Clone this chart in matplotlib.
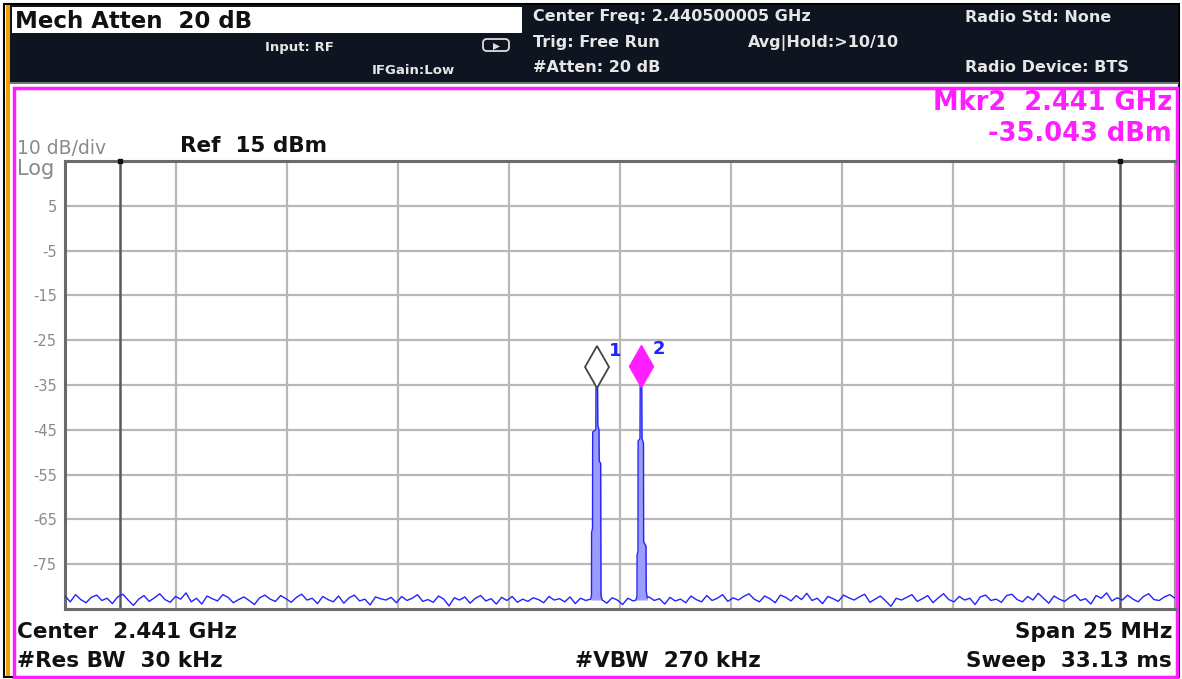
import matplotlib.pyplot as plt
import matplotlib.patches as mpatches
import matplotlib.transforms as mtransforms
import numpy as np

plt.rcParams['font.family'] = ['DejaVu Sans']

# ---- instrument settings ----
CENTER_GHZ = 2.441
SPAN_GHZ = 0.025
REF_DBM = 15
DB_PER_DIV = 10
Y_TICKS = [5, -5, -15, -25, -35, -45, -55, -65, -75]
FREQ_LINES_GHZ = [2.42974, 2.45226]

NOISE_DBM = [
    -82.1, -83.4, -81.8, -82.9, -83.6, -82.4, -81.9, -83.1, -82.6, -83.8,
    -82.3, -81.7, -83.0, -84.2, -82.8, -82.0, -83.3, -82.5, -81.6, -82.9,
    -83.5, -82.2, -82.8, -81.4, -83.4, -82.6, -83.9, -82.1, -82.7, -83.2,
    -81.8, -82.4, -83.6, -82.9, -82.3, -83.1, -84.0, -82.5, -81.9, -82.8,
    -83.3, -82.0, -82.7, -83.5, -82.4, -81.7, -83.0, -82.6, -83.8, -82.2,
    -82.9, -83.4, -82.1, -83.7, -82.5, -81.9, -83.2, -82.8, -84.1, -82.3,
    -82.7, -83.0, -82.4, -83.6, -82.2, -83.1, -82.6, -81.8, -83.3, -82.9,
    -83.5, -82.1, -82.8, -84.3, -82.5, -83.0, -82.3, -83.7, -82.6, -82.0,
    -83.2, -82.7, -83.9, -82.4, -83.1, -82.2, -83.5, -82.8, -83.3, -82.5,
    -82.9, -83.6, -82.2, -83.0, -82.7, -83.4, -82.3, -83.8, -82.6, -83.1,
    -82.8, -83.3, -82.4, -83.7, -82.5, -83.0, -84.0, -82.6, -83.2, -82.9,
    -83.5, -82.3, -83.1, -82.7, -83.9, -82.4, -83.2, -82.8, -83.6, -82.1,
    -82.9, -83.4, -82.0, -83.1, -82.6, -81.8, -83.3, -82.5, -83.0, -82.2,
    -81.6, -82.8, -83.4, -82.1, -82.7, -83.6, -81.9, -82.4, -83.2, -82.0,
    -82.9, -81.5, -83.1, -82.6, -83.8, -82.2, -82.7, -83.3, -81.9, -82.5,
    -83.0, -82.3, -81.7, -83.5, -82.8, -82.1, -83.2, -84.4, -82.6, -83.0,
    -82.4, -81.8, -83.3, -82.7, -82.0, -83.6, -82.5, -81.6, -82.9, -83.4,
    -82.2, -83.0, -82.6, -84.0, -82.3, -81.9, -83.1, -82.8, -83.5, -82.0,
    -81.7, -82.9, -83.4, -82.2, -83.0, -81.5, -82.6, -83.7, -82.1, -82.8,
    -83.3, -82.4, -81.8, -83.1, -82.7, -83.9, -82.0, -82.6, -81.4, -83.2,
    -82.5, -83.0, -81.9, -82.8, -83.4, -82.2, -81.6, -82.9, -83.1, -82.3,
    -81.8, -82.6,
]

PEAK1_GHZ = [2.440340, 2.440358, 2.440360, 2.440381, 2.440385, 2.440455, 2.440460,
             2.440495, 2.440500, 2.440527, 2.440532, 2.440565, 2.440572, 2.440600]
PEAK1_DBM = [-82.8, -82.0, -68.0, -67.0, -45.5, -45.0, -35.5,
             -35.3, -44.0, -45.0, -52.0, -52.5, -82.0, -83.0]

PEAK2_GHZ = [2.441360, 2.441383, 2.441385, 2.441405, 2.441408, 2.441450, 2.441455,
             2.441490, 2.441495, 2.441529, 2.441532, 2.441586, 2.441590, 2.441615]
PEAK2_DBM = [-83.0, -82.0, -73.0, -72.0, -47.5, -47.0, -35.0,
             -35.0, -47.0, -48.0, -70.0, -71.0, -81.0, -82.5]

MARKER_GHZ = [2.44048, 2.44147]
MARKER_DBM = [-35.4, -35.043]
MARKER_NAMES = ['1', '2']

TRACE_BLUE = '#2222ff'
FILL_BLUE = '#9c9cff'
MAGENTA = '#ff1eff'
HEADER_BG = '#0e1420'

f_start = CENTER_GHZ - SPAN_GHZ / 2
f_stop = CENTER_GHZ + SPAN_GHZ / 2

noise_f = np.linspace(f_start, f_stop, len(NOISE_DBM))
noise_db = np.array(NOISE_DBM)
keep = ~(((noise_f > PEAK1_GHZ[0]) & (noise_f < PEAK1_GHZ[-1])) |
         ((noise_f > PEAK2_GHZ[0]) & (noise_f < PEAK2_GHZ[-1])))
trace_f = np.concatenate([noise_f[keep], PEAK1_GHZ, PEAK2_GHZ])
trace_db = np.concatenate([noise_db[keep], PEAK1_DBM, PEAK2_DBM])
order = np.argsort(trace_f)
trace_f, trace_db = trace_f[order], trace_db[order]

W, H = 1182, 679
fig = plt.figure(figsize=(W / 100, H / 100), dpi=100)

# ---- screen furniture (pixel coordinates) ----
bg = fig.add_axes([0, 0, 1, 1])
bg.set_xlim(0, W)
bg.set_ylim(H, 0)
bg.axis('off')

bg.add_patch(mpatches.Rectangle((4, 4), W - 7, H - 6, fc='white', ec='black', lw=1.5))
bg.add_patch(mpatches.Rectangle((6, 5), 4, H - 8, fc='#f0a000', ec='none'))
bg.add_patch(mpatches.Rectangle((10, 5), W - 14, 79, fc=HEADER_BG, ec='none'))
bg.plot([10, W - 4], [83, 83], color='#8a8a8a', lw=1.2)
bg.add_patch(mpatches.Rectangle((12, 7), 510, 26, fc='white', ec='none'))
bg.add_patch(mpatches.Rectangle((13.5, 87.5), W - 18.5, H - 90, fc='none',
                                ec=MAGENTA, lw=2.5))

bg.text(15, 21, 'Mech Atten  20 dB', fontsize=16.5, fontweight='bold',
        color='#111111', va='center', ha='left')
bg.text(265, 47, 'Input: RF', fontsize=9.5, fontweight='bold', color='#e6e6e6',
        va='center', ha='left')
bg.text(372, 71, 'IFGain:Low', fontsize=9.5, fontweight='bold', color='#e6e6e6',
        va='center', ha='left')
bg.add_patch(mpatches.FancyBboxPatch((484, 40), 24, 10, boxstyle='round,pad=1,rounding_size=4',
                                     fc='none', ec='#dddddd', lw=1.3))
bg.add_patch(mpatches.Polygon([[493, 43], [500, 46.5], [493, 50]], closed=True,
                              fc='#dddddd', ec='none'))

hdr = dict(fontsize=11.5, fontweight='bold', color='#e6e6e6', va='center', ha='left')
bg.text(533, 17, 'Center Freq: 2.440500005 GHz', **hdr)
bg.text(533, 43, 'Trig: Free Run', **hdr)
bg.text(748, 43, 'Avg|Hold:>10/10', **hdr)
bg.text(533, 68, '#Atten: 20 dB', **hdr)
bg.text(965, 18, 'Radio Std: None', **hdr)
bg.text(965, 68, 'Radio Device: BTS', **hdr)

bg.text(1172, 103, 'Mkr2  2.441 GHz', fontsize=18.5, fontweight='bold', color=MAGENTA,
        va='center', ha='right')
bg.text(1172, 134, '-35.043 dBm', fontsize=18.5, fontweight='bold', color=MAGENTA,
        va='center', ha='right')

bg.text(17, 149, '10 dB/div', fontsize=13.5, color='#8a8a8a', va='center', ha='left')
bg.text(17, 169, 'Log', fontsize=15, color='#8a8a8a', va='center', ha='left')
bg.text(180, 146, 'Ref  15 dBm', fontsize=15.5, fontweight='bold', color='#111111',
        va='center', ha='left')

foot = dict(fontsize=15.5, fontweight='bold', color='#111111', va='center')
bg.text(17, 632, 'Center  2.441 GHz', ha='left', **foot)
bg.text(17, 661, '#Res BW  30 kHz', ha='left', **foot)
bg.text(575, 661, '#VBW  270 kHz', ha='left', **foot)
bg.text(1172, 632, 'Span 25 MHz', ha='right', **foot)
bg.text(1172, 661, 'Sweep  33.13 ms', ha='right', **foot)

# ---- graticule ----
x0, y0, x1, y1 = 65, 161, 1175, 609
ax = fig.add_axes([x0 / W, 1 - y1 / H, (x1 - x0) / W, (y1 - y0) / H])
ax.set_xlim(f_start, f_stop)
ax.set_ylim(REF_DBM - 10 * DB_PER_DIV, REF_DBM)
ax.set_xticks(np.linspace(f_start, f_stop, 11))
ax.set_xticklabels([])
ax.set_yticks(Y_TICKS)
ax.set_yticklabels([str(v) for v in Y_TICKS], color='#8a8a8a', fontsize=10.5)
ax.tick_params(length=0, pad=6)
ax.grid(True, color='#b8b8b8', lw=1.6)
ax.set_axisbelow(True)
for side in ['left', 'bottom', 'top']:
    ax.spines[side].set_color('#6a6a6a')
    ax.spines[side].set_linewidth(2.2)
ax.spines['right'].set_color('#9a9a9a')
ax.spines['right'].set_linewidth(1.5)

for fl in FREQ_LINES_GHZ:
    ax.axvline(fl, color='#5a5a5a', lw=1.8, zorder=1.5)
    ax.plot([fl], [REF_DBM], marker='s', ms=3, color='#111111', clip_on=False, zorder=5)

ax.fill_between(PEAK1_GHZ, PEAK1_DBM, -83, color=FILL_BLUE, lw=0, zorder=2)
ax.fill_between(PEAK2_GHZ, PEAK2_DBM, -83, color=FILL_BLUE, lw=0, zorder=2)
ax.plot(trace_f, trace_db, color=TRACE_BLUE, lw=1.0, zorder=3)

# ---- markers ----
up = mtransforms.offset_copy(ax.transData, fig=fig, x=0, y=14, units='points')
ax.plot([MARKER_GHZ[0]], [MARKER_DBM[0]], marker='d', ms=21, mfc='white',
        mec='#444444', mew=1.3, transform=up, clip_on=False, zorder=6)
ax.plot([MARKER_GHZ[1]], [MARKER_DBM[1]], marker='d', ms=21, mfc=MAGENTA,
        mec=MAGENTA, mew=1.0, transform=up, clip_on=False, zorder=6)
for fm, dm, name in zip(MARKER_GHZ, MARKER_DBM, MARKER_NAMES):
    ax.annotate(name, (fm, dm), xytext=(13, 26), textcoords='offset points',
                fontsize=13, fontweight='bold', color=TRACE_BLUE, ha='center', va='center')

fig.savefig('out.png', dpi=100)
